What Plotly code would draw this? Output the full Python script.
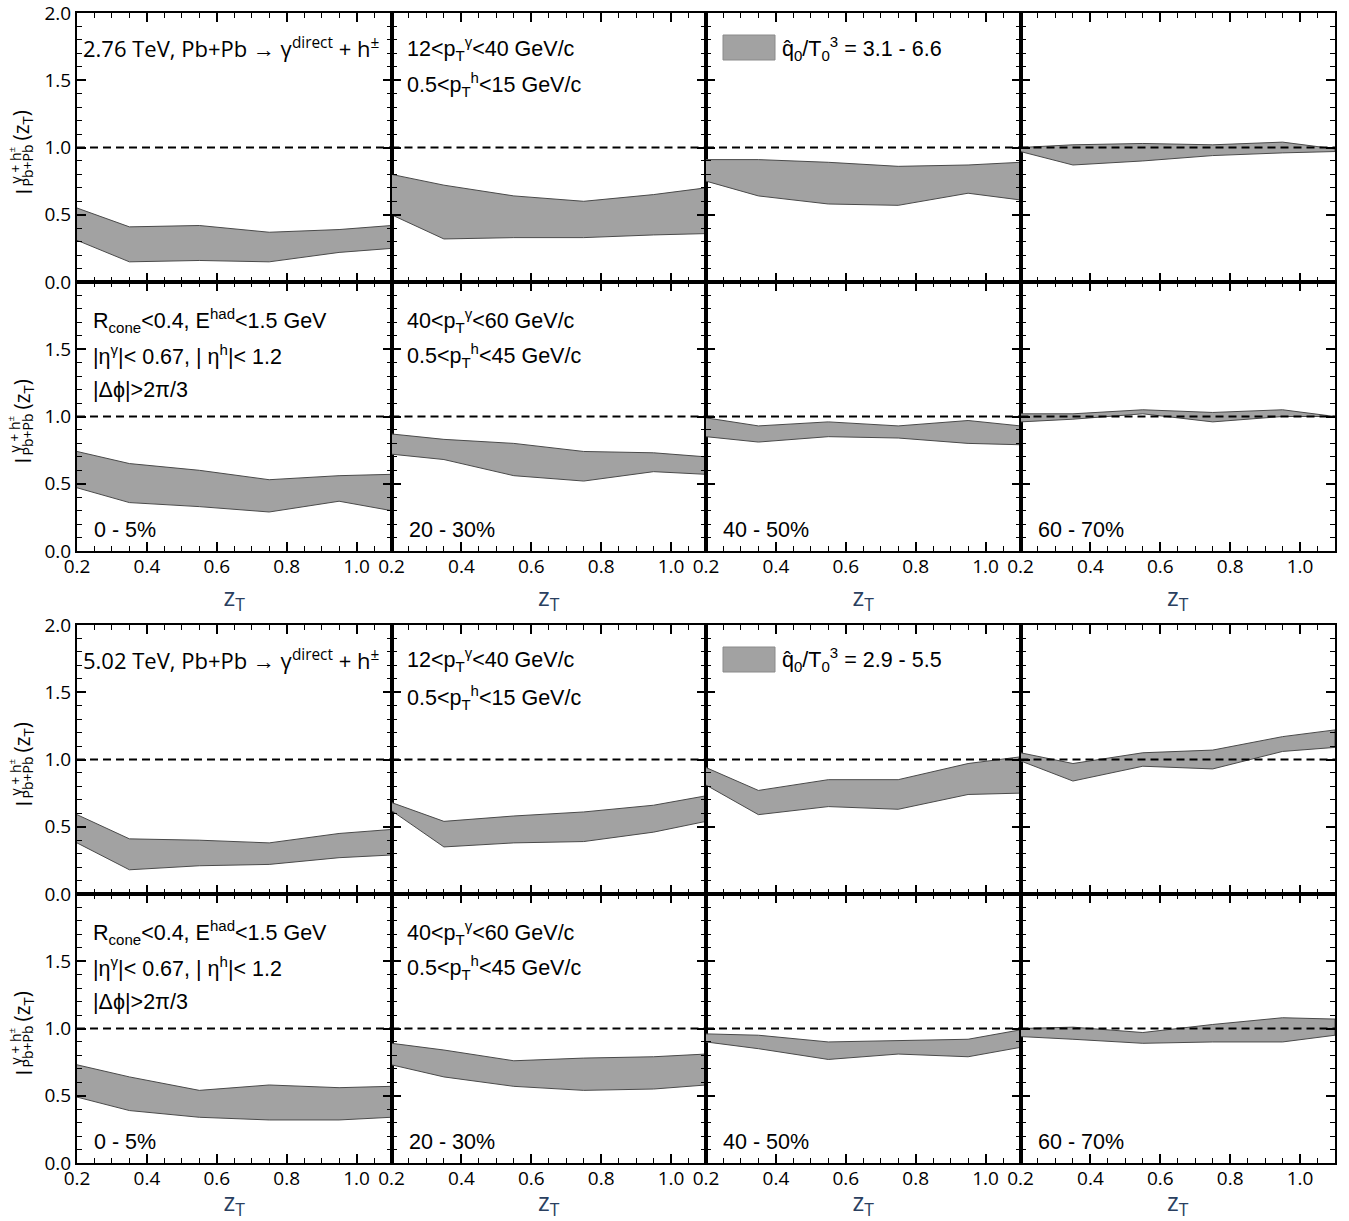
import plotly.graph_objects as go

# ---------------- data ----------------
z_T = [0.2, 0.35, 0.55, 0.75, 0.95, 1.1]
centralities = ["0 - 5%", "20 - 30%", "40 - 50%", "60 - 70%"]
x_ticks = [0.2, 0.4, 0.6, 0.8, 1.0]
y_ticks_full = [0.0, 0.5, 1.0, 1.5, 2.0]
y_ticks_lower = [0.0, 0.5, 1.0, 1.5]

# 2.76 TeV, 12<pT^gamma<40 GeV/c  (one list per centrality)
upper_276_pt12_40 = [
    [0.55, 0.41, 0.42, 0.37, 0.39, 0.42],
    [0.80, 0.72, 0.64, 0.60, 0.65, 0.70],
    [0.91, 0.91, 0.89, 0.86, 0.87, 0.89],
    [1.00, 1.02, 1.03, 1.02, 1.04, 0.99],
]
lower_276_pt12_40 = [
    [0.31, 0.15, 0.16, 0.15, 0.22, 0.25],
    [0.50, 0.32, 0.33, 0.33, 0.35, 0.36],
    [0.75, 0.64, 0.58, 0.57, 0.66, 0.61],
    [0.97, 0.87, 0.90, 0.94, 0.96, 0.97],
]
# 2.76 TeV, 40<pT^gamma<60 GeV/c
upper_276_pt40_60 = [
    [0.74, 0.65, 0.60, 0.53, 0.56, 0.57],
    [0.87, 0.83, 0.80, 0.74, 0.73, 0.70],
    [0.99, 0.93, 0.96, 0.93, 0.97, 0.93],
    [1.02, 1.02, 1.05, 1.03, 1.05, 1.00],
]
lower_276_pt40_60 = [
    [0.47, 0.36, 0.33, 0.29, 0.37, 0.30],
    [0.72, 0.68, 0.56, 0.52, 0.59, 0.57],
    [0.85, 0.81, 0.85, 0.84, 0.80, 0.79],
    [0.96, 0.98, 1.02, 0.96, 1.00, 1.00],
]
# 5.02 TeV, 12<pT^gamma<40 GeV/c
upper_502_pt12_40 = [
    [0.59, 0.41, 0.40, 0.38, 0.45, 0.48],
    [0.68, 0.54, 0.58, 0.61, 0.66, 0.73],
    [0.94, 0.77, 0.85, 0.85, 0.97, 1.02],
    [1.05, 0.97, 1.05, 1.07, 1.17, 1.22],
]
lower_502_pt12_40 = [
    [0.38, 0.18, 0.21, 0.22, 0.27, 0.29],
    [0.62, 0.35, 0.38, 0.39, 0.46, 0.54],
    [0.81, 0.59, 0.65, 0.63, 0.74, 0.75],
    [0.99, 0.84, 0.95, 0.93, 1.06, 1.09],
]
# 5.02 TeV, 40<pT^gamma<60 GeV/c
upper_502_pt40_60 = [
    [0.73, 0.64, 0.54, 0.58, 0.56, 0.57],
    [0.89, 0.84, 0.76, 0.78, 0.79, 0.81],
    [0.96, 0.95, 0.90, 0.91, 0.92, 0.99],
    [1.00, 1.01, 0.97, 1.03, 1.08, 1.07],
]
lower_502_pt40_60 = [
    [0.49, 0.39, 0.34, 0.32, 0.32, 0.34],
    [0.73, 0.64, 0.57, 0.54, 0.55, 0.58],
    [0.90, 0.85, 0.77, 0.81, 0.79, 0.86],
    [0.94, 0.92, 0.89, 0.90, 0.90, 0.95],
]

rows_data = [
    (upper_276_pt12_40, lower_276_pt12_40),
    (upper_276_pt40_60, lower_276_pt40_60),
    (upper_502_pt12_40, lower_502_pt12_40),
    (upper_502_pt40_60, lower_502_pt40_60),
]

# ---------------- layout geometry ----------------
W, H = 1349, 1221
ML, MR, MT, MB = 77, 14, 13, 58
PW = W - ML - MR
PH = H - MT - MB


def px_x(px):
    return (px - ML) / PW


def px_y(py):
    return (H - MB - py) / PH


row_px = [(13, 282), (282, 551), (625, 894), (894, 1163)]
col_px = [(77 + c * PW / 4, 77 + (c + 1) * PW / 4) for c in range(4)]

FILL = "#a2a2a2"
EDGE = "#4a4a4a"
TICKFONT = dict(family="Open Sans", size=19, color="black")
TXT1 = dict(family="Open Sans", size=22, color="black")
TXT2 = dict(family="Liberation Sans", size=21.5, color="black")

fig = go.Figure()
layout = {}
annotations = []
shapes = []

for r in range(4):
    upper_rows, lower_rows = rows_data[r]
    for c in range(4):
        i = r * 4 + c + 1
        xa = "x" if i == 1 else f"x{i}"
        ya = "y" if i == 1 else f"y{i}"
        up = upper_rows[c]
        lo = lower_rows[c]
        fig.add_trace(go.Scatter(
            x=z_T + z_T[::-1], y=up + lo[::-1], fill="toself",
            fillcolor=FILL, line=dict(color=EDGE, width=1),
            mode="lines", showlegend=False, hoverinfo="skip",
            xaxis=xa, yaxis=ya))
        y0, y1 = row_px[r]
        x0, x1 = col_px[c]
        show_x = r in (1, 3)
        xkey = "xaxis" if i == 1 else f"xaxis{i}"
        ykey = "yaxis" if i == 1 else f"yaxis{i}"
        layout[xkey] = dict(
            domain=[px_x(x0), px_x(x1)], anchor=ya, range=[0.2, 1.1],
            automargin=False, ticklabeloverflow="allow", ticklabelstandoff=-3,
            showgrid=False, zeroline=False, showline=True, linecolor="black",
            linewidth=2, mirror="allticks", ticks="inside", ticklen=9,
            tickwidth=1.5, tickcolor="black", tickvals=x_ticks,
            ticktext=[f"{v:.1f}" for v in x_ticks], showticklabels=show_x,
            tickfont=TICKFONT,
            minor=dict(dtick=0.05, tick0=0.2, ticks="inside", ticklen=5,
                       tickwidth=1.2, tickcolor="black", showgrid=False),
            title=dict(text="z<sub>T</sub>" if show_x else "",
                       font=dict(family="Open Sans", size=25), standoff=3),
        )
        yt = y_ticks_full if r in (0, 2) else y_ticks_lower
        layout[ykey] = dict(
            domain=[px_y(y1), px_y(y0)], anchor=xa, range=[0, 2],
            automargin=False, ticklabeloverflow="allow",
            showgrid=False, zeroline=False, showline=True, linecolor="black",
            linewidth=2, mirror="allticks", ticks="inside", ticklen=9,
            tickwidth=1.5, tickcolor="black", tickvals=yt,
            ticktext=[f"{v:.1f}" for v in yt], showticklabels=(c == 0),
            tickfont=TICKFONT,
            minor=dict(dtick=0.1, tick0=0, ticks="inside", ticklen=5,
                       tickwidth=1.2, tickcolor="black", showgrid=False),
        )
        # dashed reference line at 1
        shapes.append(dict(type="line", xref=f"{xa} domain", yref=ya,
                           x0=0, x1=1, y0=1, y1=1,
                           line=dict(color="black", width=1.8, dash="8px,5px")))
        # centrality labels in the lower row of each block
        if r in (1, 3):
            annotations.append(dict(
                x=px_x(x0 + 15), y=px_y(y1 - 21), xref="paper", yref="paper",
                text=centralities[c], showarrow=False, xanchor="left",
                yanchor="middle", font=TXT2))

# ---------- panel texts ----------
energies = ["2.76", "5.02"]
qhat_ranges = ["3.1 - 6.6", "2.9 - 5.5"]
for b in range(2):
    rt = 2 * b      # upper row in block
    rb = 2 * b + 1  # lower row in block
    top = row_px[rt][0]
    mid = row_px[rb][0]
    # column 1, top row
    annotations.append(dict(
        x=px_x(81), y=px_y(top + 34), xref="paper", yref="paper",
        text=f"{energies[b]} TeV, Pb+Pb → γ<sup>direct</sup> + h<sup>±</sup>",
        showarrow=False, xanchor="left", yanchor="middle", font=TXT1))
    # column 2, top row
    annotations.append(dict(
        x=px_x(405), y=px_y(top + 35), xref="paper", yref="paper",
        text="12&lt;p<sub>T</sub><sup>γ</sup>&lt;40 GeV/c",
        showarrow=False, xanchor="left", yanchor="middle", font=TXT2))
    annotations.append(dict(
        x=px_x(405), y=px_y(top + 72), xref="paper", yref="paper",
        text="0.5&lt;p<sub>T</sub><sup>h</sup>&lt;15 GeV/c",
        showarrow=False, xanchor="left", yanchor="middle", font=TXT2))
    # column 3, top row: legend box
    shapes.append(dict(type="rect", xref="paper", yref="paper",
                       x0=px_x(723), x1=px_x(775), y0=px_y(top + 47), y1=px_y(top + 22),
                       fillcolor=FILL, line=dict(color="#8a8a8a", width=1)))
    annotations.append(dict(
        x=px_x(780), y=px_y(top + 35), xref="paper", yref="paper",
        text=f"q\u0302<sub>0</sub>/T<sub>0</sub><sup>3</sup> = {qhat_ranges[b]}",
        showarrow=False, xanchor="left", yanchor="middle", font=TXT2))
    # column 1, lower row
    for k, t in enumerate([
            "R<sub>cone</sub>&lt;0.4, E<sup>had</sup>&lt;1.5 GeV",
            "|η<sup>γ</sup>|&lt; 0.67, | η<sup>h</sup>|&lt; 1.2",
            "|Δϕ|&gt;2π/3"]):
        annotations.append(dict(
            x=px_x(91), y=px_y(mid + 38 + 35 * k), xref="paper", yref="paper",
            text=t, showarrow=False, xanchor="left", yanchor="middle", font=TXT2))
    # column 2, lower row
    annotations.append(dict(
        x=px_x(405), y=px_y(mid + 38), xref="paper", yref="paper",
        text="40&lt;p<sub>T</sub><sup>γ</sup>&lt;60 GeV/c",
        showarrow=False, xanchor="left", yanchor="middle", font=TXT2))
    annotations.append(dict(
        x=px_x(405), y=px_y(mid + 73), xref="paper", yref="paper",
        text="0.5&lt;p<sub>T</sub><sup>h</sup>&lt;45 GeV/c",
        showarrow=False, xanchor="left", yanchor="middle", font=TXT2))

# ---------- composite y-axis titles ----------
for r in range(4):
    yc = (row_px[r][0] + row_px[r][1]) / 2
    parts = [
        ("I", 23, yc + 44, 21),
        ("γ + h<sup>±</sup>", 15, yc + 18, 14),
        ("Pb+Pb", 27, yc + 18, 14),
        ("(z<sub>T</sub>)", 22, yc - 22, 21),
    ]
    for txt, xp, yp, fs in parts:
        annotations.append(dict(
            x=px_x(xp), y=px_y(yp), xref="paper", yref="paper", text=txt,
            textangle=-90, showarrow=False, xanchor="center", yanchor="middle",
            font=dict(family="Open Sans", size=fs, color="black")))

fig.update_layout(
    width=W, height=H,
    margin=dict(l=ML, r=MR, t=MT, b=MB),
    paper_bgcolor="white", plot_bgcolor="white",
    showlegend=False,
    annotations=annotations,
    shapes=shapes,
    **layout,
)

fig.write_html("out.html", config={"displayModeBar": False},
               post_script="document.body.style.margin='0';document.body.style.overflow='hidden';")
